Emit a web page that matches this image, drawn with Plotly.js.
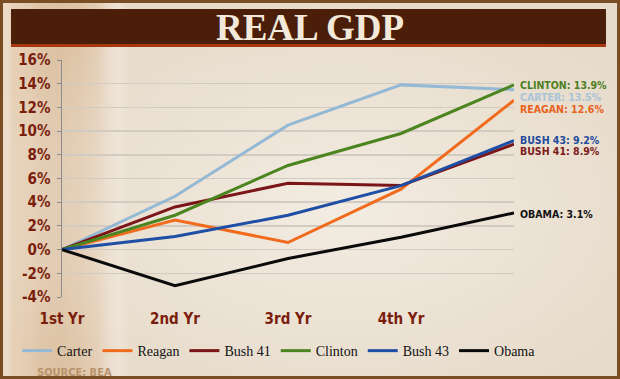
<!DOCTYPE html>
<html>
<head>
<meta charset="utf-8">
<script src="https://cdn.plot.ly/plotly-3.0.1.min.js"></script>
<style>
  html, body { margin: 0; padding: 0; }
  #chart {
    width: 620px; height: 379px; position: relative;
    background:
      radial-gradient(ellipse at 55% 55%, rgba(244,238,229,0.9) 0%, rgba(240,232,221,0.5) 45%, rgba(228,216,198,0) 80%),
      linear-gradient(to right, #ead9c4 0px, #ecdcc8 8px, #e6d1b8 12px, #e3cbb0 30px, #dfc5a8 40px, #dcc1a2 60px, #dec4a6 80px, #e2ccb2 98px, #e9dac8 108px, #ede2d4 118px, #e6dac8 130px, #e6dac8 100%);
    box-shadow: inset 0 0 0 3px #7a4e24;
  }
</style>
</head>
<body>
<div id="chart"></div>
<script>
const years = [0, 1, 2, 3, 4];
const yearLabels = ["1st Yr", "2nd Yr", "3rd Yr", "4th Yr"];
const carter  = [0, 4.5, 10.5, 13.9, 13.5];
const reagan  = [0, 2.5, 0.6, 5.1, 12.6];
const bush41  = [0, 3.6, 5.6, 5.4, 8.9];
const clinton = [0, 2.9, 7.1, 9.8, 13.9];
const bush43  = [0, 1.1, 2.9, 5.4, 9.2];
const obama   = [0, -3.05, -0.75, 1.05, 3.1];
const yTicks = [-4, -2, 0, 2, 4, 6, 8, 10, 12, 14, 16];
const yTickLabels = ["-4%", "-2%", "0%", "2%", "4%", "6%", "8%", "10%", "12%", "14%", "16%"];

const series = [
  {name: "Carter",  y: carter,  color: "#94b9d4", label: "CARTER: 13.5%",  ly: 12.88, lc: "#a9c4d8"},
  {name: "Reagan",  y: reagan,  color: "#f06b1e", label: "REAGAN: 12.6%",  ly: 11.87, lc: "#e8621c"},
  {name: "Bush 41", y: bush41,  color: "#7b1518", label: "BUSH 41: 8.9%",  ly: 8.28, lc: "#7d1a1a"},
  {name: "Clinton", y: clinton, color: "#4c8520", label: "CLINTON: 13.9%", ly: 13.89, lc: "#4e7f1f"},
  {name: "Bush 43", y: bush43,  color: "#1f4fa5", label: "BUSH 43: 9.2%",  ly: 9.29, lc: "#1f4b9c"},
  {name: "Obama",   y: obama,   color: "#0a0a0a", label: "OBAMA: 3.1%",    ly: 3.0, lc: "#111111"}
];

const cond = "DejaVu Sans Condensed, Liberation Sans Narrow, Roboto, sans-serif";
const tickRed = "#7a1e0c";

const traces = series.map(s => ({
  type: "scatter", mode: "lines", name: s.name,
  x: years, y: s.y,
  line: {color: s.color, width: 3}
}));

const annotations = series.map(s => ({
  xref: "x", yref: "y", x: 4, y: s.ly, xanchor: "left", yanchor: "middle",
  xshift: 4, text: "<b>" + s.label + "</b>", showarrow: false,
  font: {family: cond, size: 10.5, color: s.lc}
}));
annotations.push({
  xref: "paper", yref: "paper", x: -0.06, y: -0.32, xanchor: "left", yanchor: "middle",
  text: "<b>SOURCE: BEA</b>", showarrow: false,
  font: {family: cond, size: 11, color: "#b8936b"}
});

const layout = {
  width: 620, height: 379,
  margin: {l: 62, r: 106, t: 60, b: 82},
  paper_bgcolor: "rgba(0,0,0,0)",
  plot_bgcolor: "rgba(0,0,0,0)",
  title: {
    text: "<b>REAL GDP</b>", x: 0.5, xref: "container", xanchor: "center",
    y: 1 - 27/379, yref: "container", yanchor: "middle",
    font: {family: "Liberation Serif, Times New Roman, serif", size: 37, color: "#f2e9da"}
  },
  shapes: [
    {type: "rect", xref: "paper", yref: "paper", x0: -0.1128, x1: 1.2035, y0: 1.0675, y1: 1.2152,
     fillcolor: "#4b1e09", line: {width: 0}, layer: "below"},
    {type: "rect", xref: "paper", yref: "paper", x0: -0.1128, x1: 1.2035, y0: 1.0549, y1: 1.0675,
     fillcolor: "#a8390f", line: {width: 0}, layer: "below"}
  ],
  xaxis: {
    range: [0, 4], tickvals: [0, 1, 2, 3], ticktext: yearLabels,
    showgrid: false, zeroline: false, showline: false, ticks: "",
    ticklabelstandoff: 11,
    tickfont: {family: cond, size: 15, color: tickRed, weight: "bold"}
  },
  xaxis2: {
    overlaying: "x", anchor: "free", position: 0.2, range: [0, 4],
    tickvals: [1, 2, 3, 4], ticks: "inside", ticklen: 5, tickcolor: "#8c8c8c",
    showline: true, linecolor: "#8c8c8c", linewidth: 1.5,
    showgrid: false, zeroline: false, showticklabels: false
  },
  yaxis: {
    range: [-4, 16], tickvals: yTicks, ticktext: yTickLabels,
    showgrid: true, gridcolor: "#d2cbc1", gridwidth: 1.5,
    zeroline: false, showline: true, linecolor: "#8c8c8c", linewidth: 1.5,
    ticks: "outside", ticklen: 4, tickcolor: "#8c8c8c",
    ticklabelstandoff: 3,
    tickfont: {family: cond, size: 15, color: tickRed, weight: "bold"}
  },
  showlegend: true,
  legend: {
    orientation: "h", xref: "paper", yref: "paper",
    x: 1.06, xanchor: "right", y: -0.228, yanchor: "middle",
    font: {family: "Liberation Serif, Times New Roman, serif", size: 14, color: "#111"},
    bgcolor: "rgba(0,0,0,0)", itemwidth: 30, tracegroupgap: 0
  },
  annotations: annotations
};

Plotly.newPlot("chart", traces, layout, {displayModeBar: false, staticPlot: true});
</script>
</body>
</html>
